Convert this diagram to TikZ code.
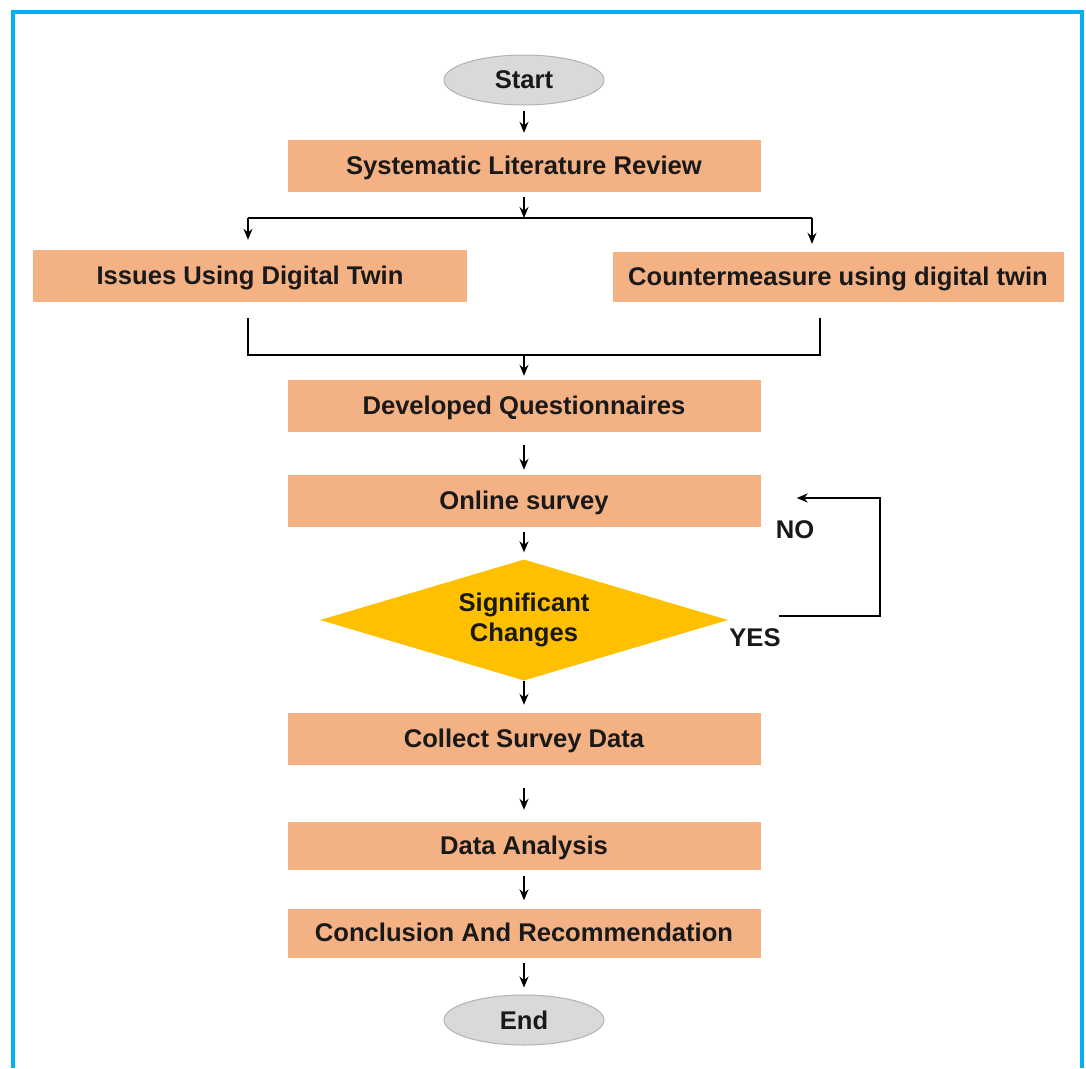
\documentclass[tikz,border=0pt]{standalone}
\usepackage{fontspec}
\setmainfont{Liberation Sans}
\usetikzlibrary{shapes.geometric,arrows.meta}
\definecolor{boxorange}{HTML}{F4B183}
\definecolor{decgold}{HTML}{FFC000}
\definecolor{termgray}{HTML}{D9D9D9}
\definecolor{frameblue}{HTML}{00B0F0}
\begin{document}
\begin{tikzpicture}[x=1pt, y=-1pt,
  every node/.style={font=\fontsize{25.6}{30}\selectfont\bfseries, text=black!90},
  stepbox/.style={fill=boxorange, minimum width=473pt, minimum height=52pt, inner sep=0pt, text depth=2pt},
  terminal/.style={ellipse, fill=termgray, draw=black!30, line width=1pt, minimum width=160pt, minimum height=50pt},
  decision/.style={diamond, fill=decgold, aspect=3.37, minimum width=408pt, minimum height=121pt, inner sep=0pt, align=center},
  arr/.style={-{Stealth[length=11pt,width=9pt]}, line width=1.6pt, shorten <=5pt, shorten >=7pt},
  link/.style={line width=1.6pt}]

  \useasboundingbox (0,0) rectangle (1086,1068);

  % Frame (open at the bottom)
  \draw[frameblue, line width=4pt] (13,1068) -- (13,12) -- (1082,12) -- (1082,1068);

  % Steps
  \node[terminal] (start) at (524,80) {Start};
  \node[stepbox] (slr) at (524,166) {Systematic Literature Review};
  \node[stepbox, minimum width=434pt] (issues) at (250,276) {Issues Using Digital Twin};
  \node[stepbox, minimum width=451pt, minimum height=50pt] (counter) at (838,277) {Countermeasure using digital twin};
  \node[stepbox] (devq) at (524,406) {Developed Questionnaires};
  \node[stepbox] (survey) at (524,501) {Online survey};
  \node[decision] (sig) at (524,620) {Significant\\Changes};
  \node[stepbox] (collect) at (524,739) {Collect Survey Data};
  \node[stepbox, minimum height=48pt] (analysis) at (524,846) {Data Analysis};
  \node[stepbox, minimum height=49pt] (concl) at (524,933) {Conclusion And Recommendation};
  \node[terminal] (end) at (524,1020) {End};

  % Labels on the loop
  \node (yes) at (755,638) {YES};
  \node (no) at (795,530) {NO};

  % Split and join points
  \coordinate (split) at (524,218);
  \coordinate (splitL) at (248,218);
  \coordinate (splitR) at (812,218);
  \coordinate (joinL) at (248,355);
  \coordinate (joinR) at (820,355);
  \coordinate (join) at (524,355);
  \coordinate (loop) at (880,498);

  % Connectors
  \draw[arr] (start) -- (slr);
  \draw[arr, shorten >=0pt] (slr) -- (split);
  \draw[link] (splitL) -- (splitR);
  \draw[arr, shorten <=0pt, shorten >=10pt] (splitL) -- (splitL |- issues.north);
  \draw[arr, shorten <=0pt, shorten >=8pt] (splitR) -- (splitR |- counter.north);
  \draw[link, shorten <=16pt, shorten >=16pt] (joinL |- issues.south) -- (joinL) -- (joinR) -- (joinR |- counter.south);
  \draw[arr, shorten <=0pt, shorten >=4pt] (join) -- (devq);
  \draw[arr, shorten <=13pt, shorten >=5pt] (devq) -- (survey);
  \draw[arr] (survey) -- (sig);
  \draw[arr, shorten <=0pt, shorten >=8pt] (sig) -- (collect);
  \draw[arr, shorten <=23pt, shorten >=12pt] (collect) -- (analysis);
  \draw[arr, shorten <=6pt, shorten >=8pt] (analysis) -- (concl);
  \draw[arr] (concl) -- (end);
  \draw[arr, shorten <=51pt, shorten >=36pt] ([yshift=4pt]sig.east) -| (loop) |- (survey.east |- loop);

\end{tikzpicture}
\end{document}
